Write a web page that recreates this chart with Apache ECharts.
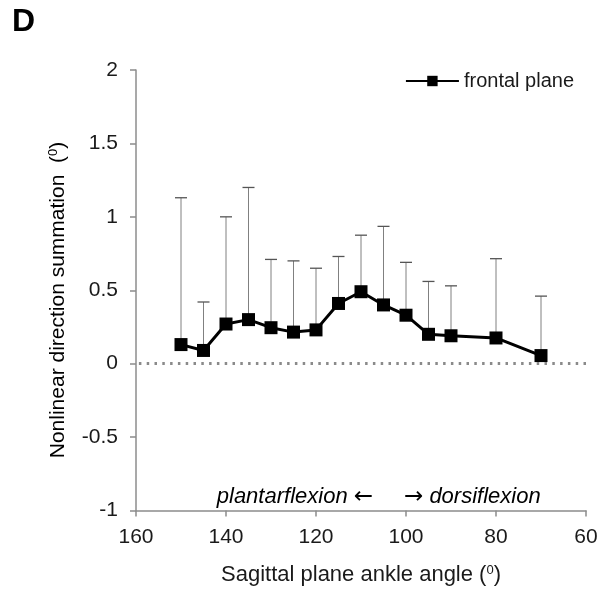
<!DOCTYPE html>
<html>
<head>
<meta charset="utf-8">
<script src="https://cdn.jsdelivr.net/npm/echarts@6/dist/echarts.min.js"></script>
<style>
html,body{margin:0;padding:0;background:#fff;}
#chart{width:608px;height:591px;}
</style>
</head>
<body>
<div id="chart"></div>
<script>
var angles = [150, 145, 140, 135, 130, 125, 120, 115, 110, 105, 100, 95, 90, 80, 70];
var means  = [0.13, 0.09, 0.27, 0.30, 0.245, 0.215, 0.23, 0.41, 0.49, 0.40, 0.33, 0.20, 0.19, 0.175, 0.055];
var uppers = [1.13, 0.42, 1.00, 1.20, 0.71, 0.70, 0.65, 0.73, 0.875, 0.935, 0.69, 0.56, 0.53, 0.715, 0.46];
var xTicks = [160, 140, 120, 100, 80, 60];
var yTicks = [-1, -0.5, 0, 0.5, 1, 1.5, 2];

var FONT = '"Liberation Sans", Arial, sans-serif';
var TXT = '#1a1a1a';
var chart = echarts.init(document.getElementById('chart'));

var lineData = angles.map(function (a, i) { return [a, means[i]]; });
var errData = angles.map(function (a, i) { return [a, means[i], uppers[i]]; });

var option = {
  backgroundColor: '#fff',
  animation: false,
  grid: { left: 136, right: 22, top: 70, bottom: 78 },
  legend: {
    data: ['frontal plane'],
    right: 29, top: 66,
    itemWidth: 53, itemHeight: 13, itemGap: 5,
    textStyle: { fontFamily: FONT, fontSize: 20, color: TXT }
  },
  graphic: [
    { type: 'text', left: 12, top: 6, style: { text: 'D', font: 'bold 32px ' + FONT, fill: '#000' } },
    { type: 'text', x: 373, y: 497, style: {
        text: '{t|plantarflexion }{r|\u2190}', align: 'right', verticalAlign: 'middle',
        rich: {
          t: { fontFamily: FONT, fontStyle: 'italic', fontSize: 22, color: TXT },
          r: { fontFamily: '"DejaVu Sans"', fontSize: 23, color: TXT }
        } } },
    { type: 'text', x: 404, y: 497, style: {
        text: '{r|\u2192}{t| dorsiflexion}', align: 'left', verticalAlign: 'middle',
        rich: {
          t: { fontFamily: FONT, fontStyle: 'italic', fontSize: 22, color: TXT },
          r: { fontFamily: '"DejaVu Sans"', fontSize: 23, color: TXT }
        } } },
    { type: 'text', x: 58, y: 300, rotation: Math.PI / 2, style: {
        text: '{a|Nonlinear direction summation  (}{s|0}{a|)}', align: 'center', verticalAlign: 'middle',
        rich: {
          a: { fontFamily: FONT, fontSize: 21, color: TXT },
          s: { fontFamily: FONT, fontSize: 13, color: TXT, padding: [0, 0, 10, 0] }
        } } }
  ],
  xAxis: {
    type: 'value', min: 60, max: 160, interval: 20, inverse: true,
    name: '{a|Sagittal plane ankle angle (}{s|0}{a|)}',
    nameLocation: 'middle', nameGap: 53,
    nameTextStyle: {
      rich: {
        a: { fontFamily: FONT, fontSize: 22, color: TXT },
        s: { fontFamily: FONT, fontSize: 13, color: TXT, padding: [0, 0, 10, 0] }
      }
    },
    axisLine: { onZero: false, lineStyle: { color: '#8c8c8c', width: 1.5 } },
    axisTick: { length: 6, lineStyle: { color: '#8c8c8c', width: 1.5 } },
    axisLabel: { margin: 16, fontFamily: FONT, fontSize: 21, color: TXT,
      formatter: function (v) { return xTicks.indexOf(v) >= 0 ? String(v) : ''; } },
    splitLine: { show: false }
  },
  yAxis: {
    type: 'value', min: -1, max: 2, interval: 0.5,
    axisLine: { show: true, onZero: false, lineStyle: { color: '#8c8c8c', width: 1.5 } },
    axisTick: { show: true, length: 6, lineStyle: { color: '#8c8c8c', width: 1.5 } },
    axisLabel: { margin: 18, fontFamily: FONT, fontSize: 21, color: TXT,
      formatter: function (v) { return yTicks.indexOf(v) >= 0 ? String(v) : ''; } },
    splitLine: { show: false }
  },
  series: [
    {
      type: 'custom',
      name: 'err',
      silent: true,
      z: 1,
      data: errData,
      renderItem: function (params, api) {
        var x = api.value(0), y = api.value(1), hi = api.value(2);
        var p0 = api.coord([x, y]);
        var p1 = api.coord([x, hi]);
        return {
          type: 'group',
          children: [
            { type: 'line', shape: { x1: p0[0], y1: p0[1], x2: p1[0], y2: p1[1] }, style: { stroke: '#808080', lineWidth: 1 } },
            { type: 'line', shape: { x1: p1[0] - 6, y1: p1[1], x2: p1[0] + 6, y2: p1[1] }, style: { stroke: '#555', lineWidth: 1.3 } }
          ]
        };
      }
    },
    {
      type: 'line',
      name: 'frontal plane',
      z: 3,
      data: lineData,
      symbol: 'rect',
      symbolSize: 13,
      showAllSymbol: true,
      lineStyle: { color: '#000', width: 3 },
      itemStyle: { color: '#000' },
      markLine: {
        silent: true,
        symbol: 'none',
        label: { show: false },
        lineStyle: { color: '#8a8a8a', width: 3, type: [2.5, 5.3] },
        data: [{ yAxis: 0 }]
      }
    }
  ]
};
chart.setOption(option);
</script>
</body>
</html>
